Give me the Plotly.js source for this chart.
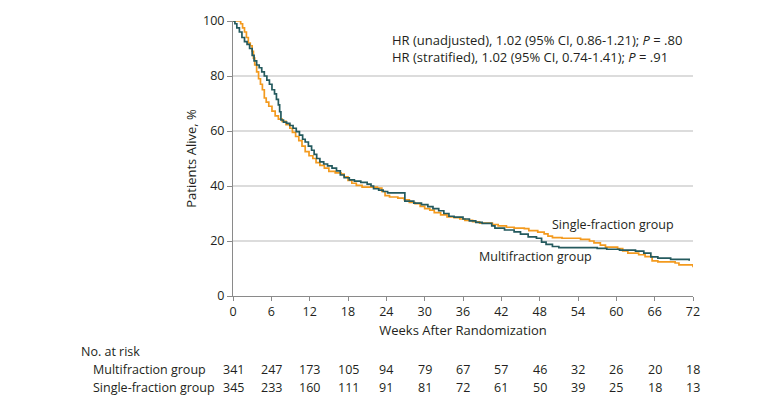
<!DOCTYPE html>
<html>
<head>
<meta charset="utf-8">
<script src="https://cdn.plot.ly/plotly-3.0.1.min.js"></script>
<style>html,body{margin:0;padding:0;background:#fff;}#chart{width:780px;height:402px;}</style>
</head>
<body>
<div id="chart"></div>
<script>
// Multifraction group (Kaplan-Meier)
const multiWeeks = [0,0.3,0.6,1.0,1.4,1.8,2.2,2.6,3.0,3.3,3.7,4.1,4.5,4.9,5.3,5.7,6.1,6.5,6.8,7.1,7.3,7.5,7.9,8.4,8.9,9.4,9.9,10.4,10.9,11.3,11.8,12.3,12.7,13.1,13.6,14.2,14.8,15.5,16.2,16.8,17.4,18.2,19.0,20.0,21.0,21.6,22.0,22.8,23.5,24.2,26.9,28.3,29.5,30.5,31.3,32.2,33.0,33.8,34.6,36.0,37.0,38.0,39.0,40.5,41.0,42.5,44.0,45.0,46.2,47.5,48.3,49.0,50.0,51.0,57.0,58.5,60.5,63.0,64.3,65.4,66.5,68.5,71.4];
const multiSurv  = [100,99,97.5,96,94,92.5,91.5,90,87.5,85.5,84,83,81.5,80,78.5,77,75,73.5,71.5,69.5,67,64,63.2,62.8,62,61,59.8,58.5,57,56,54.5,53,51.5,50,48.8,48,47.3,46.5,45.5,44,43,42.2,41.8,41.3,40.7,40,39,38.5,38,37.5,34.5,33.8,33.2,32.5,31.8,31,30,29,28.7,28,27.3,26.8,26.4,25.5,24.7,24,23.3,22.5,21.5,21,19.6,18.8,18,17.6,17.3,17,16.7,16.3,15.6,14.2,13.8,13.3,12.8];
// Single-fraction group
const singleWeeks = [0,1.0,1.2,1.5,1.8,2.1,2.4,2.7,3.0,3.2,3.4,3.7,4.0,4.3,4.6,4.9,5.2,5.6,6.1,6.6,7.1,7.7,8.3,8.9,9.3,9.8,10.3,10.8,11.3,11.9,12.5,13.0,13.6,14.3,15.0,16.0,16.9,17.4,18.0,18.6,19.3,20.2,22.6,23.3,23.8,24.5,25.8,26.8,27.6,28.5,29.3,30.0,30.8,31.5,32.5,33.5,34.6,35.5,36.3,37.5,38.6,40.6,41.5,42.8,44.0,45.6,46.3,47.7,48.7,49.3,50.0,51.5,54.4,55.8,56.5,57.5,58.3,60.2,61.0,61.8,63.5,64.5,65.6,66.5,69.2,69.8,71.9,72.0];
const singleSurv  = [100,100,99,97.5,96,94,92,91,89,86.5,84,81.5,79,77,75,72,70.5,69,67.2,65.5,64.3,63.5,62.3,61,59.5,58,56.5,54.5,52.5,51,50,48.5,47.5,46.5,45.3,44.8,44.3,43.3,42,41,40.2,39.6,39.2,38,36.5,36,35.6,35,34,33.6,32.6,31.8,31.2,30.3,29.5,28.8,28.5,28,27.5,27,26.5,26,25.5,25,24.7,24.5,23.8,23.2,22.6,21.8,21.2,21,20.6,20,19.3,18.5,17.8,17.2,16.4,15.6,15,14.3,12.8,12.4,12,11.3,11.3,10.5];

const tickWeeks = [0,6,12,18,24,30,36,42,48,54,60,66,72];
const riskMulti  = [341,247,173,105,94,79,67,57,46,32,26,20,18];
const riskSingle = [345,233,160,111,91,81,72,61,50,39,25,18,13];
const groupNames = ["Multifraction group","Single-fraction group"];
const hrLines = ["HR (unadjusted), 1.02 (95% CI, 0.86-1.21); <i>P</i> = .80",
                 "HR (stratified), 1.02 (95% CI, 0.74-1.41); <i>P</i> = .91"];

const FONT = "'Open Sans', sans-serif";
const TXT = "#231f20";
const TEAL = "#245a5e";
const ORANGE = "#f39a1e";

const traces = [
  {x: singleWeeks, y: singleSurv, mode: "lines", line: {shape: "hv", color: ORANGE, width: 1.7}, cliponaxis: false, name: groupNames[1], hoverinfo: "skip"},
  {x: multiWeeks, y: multiSurv, mode: "lines", line: {shape: "hv", color: TEAL, width: 1.7}, cliponaxis: false, name: groupNames[0], hoverinfo: "skip"}
];

const f = {family: FONT, size: 13, color: TXT};
const fn = {family: FONT, size: 12.5, color: TXT};
const ann = [];
ann.push({xref: "paper", yref: "y", x: 0.341, y: 93, text: hrLines[0], showarrow: false, xanchor: "left", yanchor: "middle", font: f});
ann.push({xref: "paper", yref: "y", x: 0.341, y: 86.8, text: hrLines[1], showarrow: false, xanchor: "left", yanchor: "middle", font: f});
ann.push({xref: "x", yref: "y", x: 49.6, y: 26, text: groupNames[1], showarrow: false, xanchor: "left", yanchor: "middle", font: fn});
ann.push({xref: "x", yref: "y", x: 38.2, y: 14.3, text: groupNames[0], showarrow: false, xanchor: "left", yanchor: "middle", font: fn});
// risk table
ann.push({xref: "paper", yref: "paper", x: -0.335, y: -0.2, text: "No. at risk", showarrow: false, xanchor: "left", yanchor: "middle", font: fn});
ann.push({xref: "paper", yref: "paper", x: -0.308, y: -0.2655, text: groupNames[0], showarrow: false, xanchor: "left", yanchor: "middle", font: fn});
ann.push({xref: "paper", yref: "paper", x: -0.308, y: -0.331, text: groupNames[1], showarrow: false, xanchor: "left", yanchor: "middle", font: fn});
tickWeeks.forEach((w, i) => {
  ann.push({xref: "x", yref: "paper", x: w, y: -0.2655, text: String(riskMulti[i]), showarrow: false, xanchor: "center", yanchor: "middle", font: fn});
  ann.push({xref: "x", yref: "paper", x: w, y: -0.331, text: String(riskSingle[i]), showarrow: false, xanchor: "center", yanchor: "middle", font: fn});
});

const layout = {
  width: 780, height: 402,
  margin: {l: 233, r: 87, t: 21, b: 106},
  paper_bgcolor: "#fff", plot_bgcolor: "#fff",
  showlegend: false,
  font: f,
  xaxis: {
    range: [0, 72], tickvals: tickWeeks, ticktext: tickWeeks.map(String),
    showgrid: false, zeroline: false, showline: true, linecolor: "#8a8a8a", linewidth: 1,
    ticks: "outside", ticklen: 4, tickcolor: "#8a8a8a", tickfont: fn,
    title: {text: "Weeks After Randomization", font: f, standoff: 6}
  },
  yaxis: {
    range: [0, 100], tickvals: [0,20,40,60,80,100],
    showgrid: true, gridcolor: "#dcdcdc", gridwidth: 1.5, zeroline: false,
    showline: true, linecolor: "#8a8a8a", linewidth: 1,
    ticks: "outside", ticklen: 5, tickcolor: "#8a8a8a", tickfont: fn,
    title: {text: "Patients Alive, %", font: f, standoff: 3}
  },
  annotations: ann
};

Plotly.newPlot("chart", traces, layout, {staticPlot: true, displayModeBar: false});
</script>
</body>
</html>
